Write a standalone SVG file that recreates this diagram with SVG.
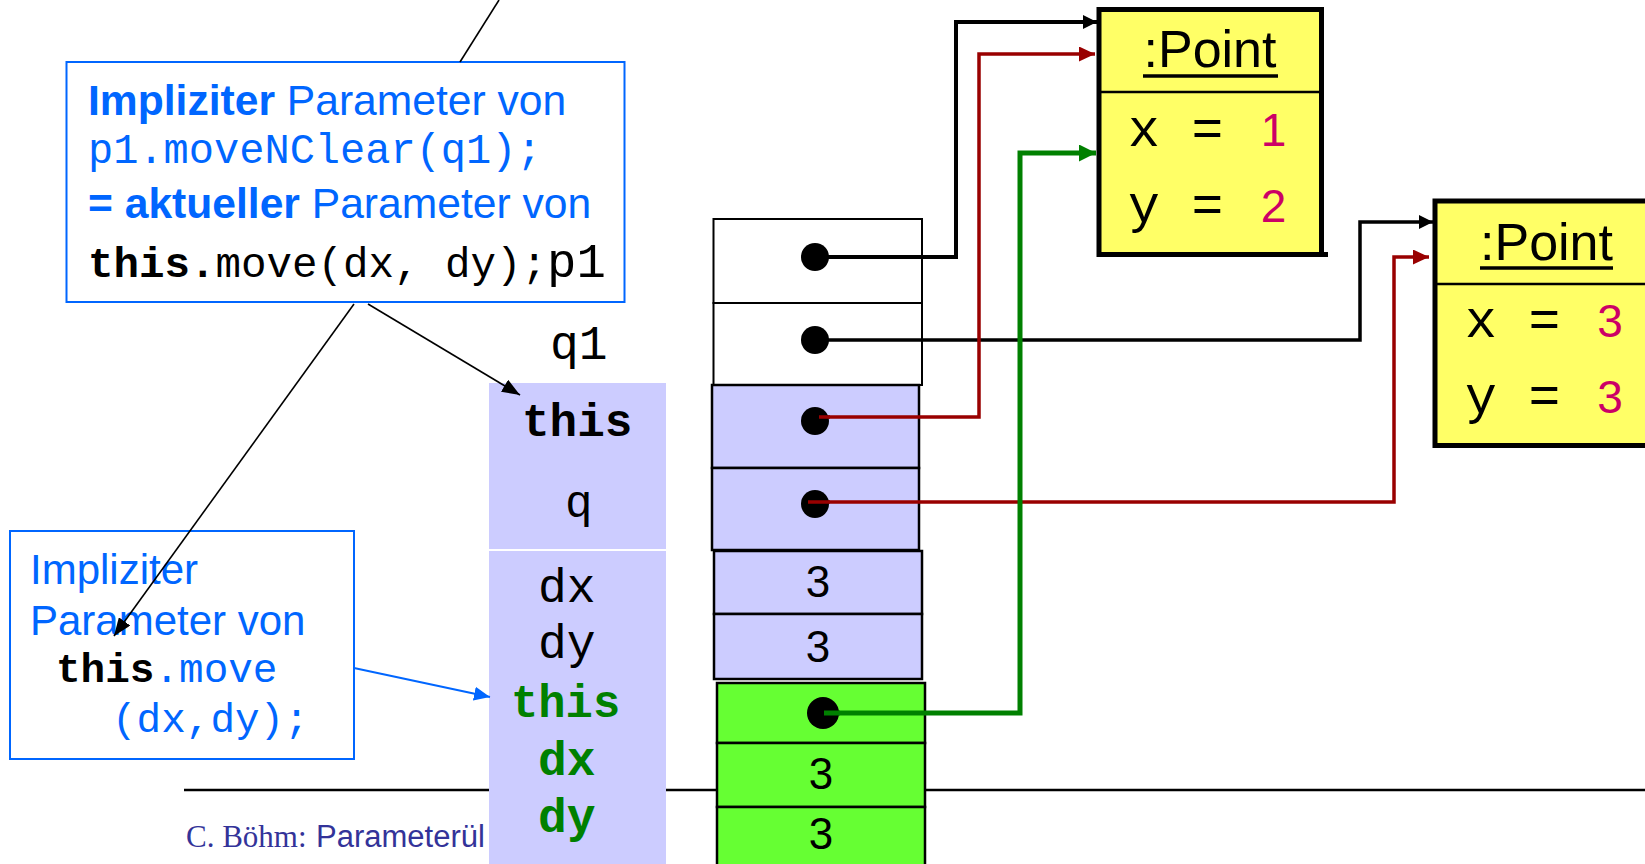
<svg xmlns="http://www.w3.org/2000/svg" width="1645" height="864" viewBox="0 0 1645 864">
<style>
.sans{font-family:"Liberation Sans",Arial,sans-serif}
.mono{font-family:"Liberation Mono","Courier New",monospace}
.serif{font-family:"Liberation Serif","Times New Roman",serif}
.blue{fill:#0066FF}
.blk{fill:#000}
.grn{fill:#008000}
.mag{fill:#CC0066}
.note{fill:#fff;stroke:#0066FF;stroke-width:2}
.cellw{fill:#fff;stroke:#000;stroke-width:2}
.cellp{fill:#CCCCFF;stroke:#000;stroke-width:2.5}
.cellg{fill:#66FF33;stroke:#000;stroke-width:2.5}
.obj{fill:#FFFF66;stroke:#000;stroke-width:5}
.dot{fill:#000}
.conn{fill:none}
</style>
<defs>
<marker id="ahB" markerUnits="userSpaceOnUse" markerWidth="14" markerHeight="14" refX="14" refY="7" orient="auto"><path d="M0,0 L14,7 L0,14 z" fill="#000"/></marker>
<marker id="ahR" markerUnits="userSpaceOnUse" markerWidth="16" markerHeight="15" refX="16" refY="7.5" orient="auto"><path d="M0,0 L16,7.5 L0,15 z" fill="#990000"/></marker>
<marker id="ahG" markerUnits="userSpaceOnUse" markerWidth="17" markerHeight="17" refX="17" refY="8.5" orient="auto"><path d="M0,0 L17,8.5 L0,17 z" fill="#008000"/></marker>
<marker id="ahBl" markerUnits="userSpaceOnUse" markerWidth="16" markerHeight="14" refX="16" refY="7" orient="auto"><path d="M0,0 L16,7 L0,14 z" fill="#0066FF"/></marker>
<marker id="ahK" markerUnits="userSpaceOnUse" markerWidth="18" markerHeight="14" refX="18" refY="7" orient="auto"><path d="M0,0 L18,7 L0,14 z" fill="#000"/></marker>
</defs>

<!-- footer -->
<g id="footer">
<line x1="184" y1="790" x2="1645" y2="790" stroke="#000" stroke-width="2.5"/>
<text x="186" y="847" font-size="31" fill="#333399"><tspan class="serif">C. Böhm:</tspan><tspan class="sans" x="316">Parameterül</tspan></text>
</g>

<!-- note 1 -->
<g id="note1">
<rect class="note" x="66.5" y="62" width="558" height="240"/>
<text class="sans blue" x="88" y="115" font-size="42.6"><tspan font-weight="bold">Impliziter</tspan> Parameter von</text>
<text class="mono blue" x="88" y="163" font-size="42">p1.moveNClear(q1);</text>
<text class="sans blue" x="88" y="218" font-size="42.6"><tspan font-weight="bold">= aktueller</tspan> Parameter von</text>
<text class="mono blk" x="88" y="277" font-size="42.5"><tspan font-weight="bold">this.</tspan>move(dx, dy);<tspan font-size="49">p1</tspan></text>
</g>

<!-- label column -->
<g id="labels">
<rect x="489" y="383" width="177" height="490" fill="#CCCCFF"/>
<line x1="489" y1="550" x2="666" y2="550" stroke="#fff" stroke-width="2"/>
<text class="mono blk" x="550" y="359" font-size="48">q1</text>
<text class="mono blk" x="522" y="436" font-size="46" font-weight="bold">this</text>
<text class="mono blk" x="565" y="517" font-size="46">q</text>
<text class="mono blk" x="538" y="602" font-size="48">dx</text>
<text class="mono blk" x="538" y="658" font-size="48">dy</text>
<text class="mono grn" x="511" y="717" font-size="45.5" font-weight="bold">this</text>
<text class="mono grn" x="538" y="775" font-size="48" font-weight="bold">dx</text>
<text class="mono grn" x="538" y="832" font-size="48" font-weight="bold">dy</text>
</g>

<!-- note 2 -->
<g id="note2">
<rect class="note" x="10" y="531" width="344" height="228"/>
<text class="sans blue" x="30" y="584" font-size="42">Impliziter</text>
<text class="sans blue" x="30" y="635" font-size="42">Parameter von</text>
<text class="mono blue" x="56" y="682" font-size="41"><tspan class="blk" font-weight="bold">this</tspan>.move</text>
<text class="mono blue" x="112" y="732" font-size="41">(dx,dy);</text>
</g>

<!-- stack -->
<g id="stack">
<rect class="cellw" x="713.5" y="219" width="208.5" height="84"/>
<rect class="cellw" x="713.5" y="303" width="208.5" height="82"/>
<rect class="cellp" x="712" y="385" width="207" height="83"/>
<rect class="cellp" x="712" y="468" width="207" height="82"/>
<rect class="cellp" x="714" y="551" width="208" height="63"/>
<rect class="cellp" x="714" y="614" width="208" height="65"/>
<rect class="cellg" x="717" y="683" width="208" height="60"/>
<rect class="cellg" x="717" y="743" width="208" height="64"/>
<rect class="cellg" x="717" y="807" width="208" height="70"/>
<text class="sans blk" x="818" y="597" font-size="44" text-anchor="middle">3</text>
<text class="sans blk" x="818" y="662" font-size="44" text-anchor="middle">3</text>
<text class="sans blk" x="821" y="789" font-size="44" text-anchor="middle">3</text>
<text class="sans blk" x="821" y="849" font-size="44" text-anchor="middle">3</text>
</g>

<!-- objects -->
<g id="point1">
<rect class="obj" x="1099" y="9.5" width="222.5" height="245"/>
<line x1="1321" y1="254.5" x2="1328" y2="254.5" stroke="#000" stroke-width="5"/>
<line x1="1099" y1="92" x2="1321" y2="92" stroke="#000" stroke-width="2.5"/>
<text class="sans blk" x="1210" y="67" font-size="52" text-anchor="middle">:Point</text>
<line x1="1143" y1="76" x2="1278" y2="76" stroke="#000" stroke-width="3.5"/>
<text class="mono blk" x="1128" y="146" font-size="53">x =</text>
<text class="sans mag" x="1273.5" y="146" font-size="46" text-anchor="middle">1</text>
<text class="mono blk" x="1128" y="222" font-size="53">y =</text>
<text class="sans mag" x="1273.5" y="222" font-size="46" text-anchor="middle">2</text>
</g>

<g id="point2">
<rect class="obj" x="1435" y="201" width="260" height="244.5"/>
<line x1="1435" y1="284" x2="1645" y2="284" stroke="#000" stroke-width="2.5"/>
<text class="sans blk" x="1546.5" y="260" font-size="52" text-anchor="middle">:Point</text>
<line x1="1480" y1="268" x2="1613" y2="268" stroke="#000" stroke-width="3.5"/>
<text class="mono blk" x="1465" y="337" font-size="53">x =</text>
<text class="sans mag" x="1610" y="337" font-size="46" text-anchor="middle">3</text>
<text class="mono blk" x="1465" y="413" font-size="53">y =</text>
<text class="sans mag" x="1610" y="413" font-size="46" text-anchor="middle">3</text>
</g>

<!-- connectors -->
<g id="connectors" class="conn">
<line x1="499" y1="0" x2="460" y2="62" stroke="#000" stroke-width="1.6"/>
<line x1="354" y1="304" x2="114" y2="636" stroke="#000" stroke-width="1.6" marker-end="url(#ahK)"/>
<line x1="368" y1="304" x2="520" y2="395" stroke="#000" stroke-width="1.6" marker-end="url(#ahK)"/>
<line x1="354" y1="668" x2="490" y2="697" stroke="#0066FF" stroke-width="2" marker-end="url(#ahBl)"/>
<path d="M815,257 H956 V22 H1097" stroke="#000" stroke-width="4" fill="none" marker-end="url(#ahB)"/>
<path d="M815,340 H1360 V222 H1433" stroke="#000" stroke-width="3.5" fill="none" marker-end="url(#ahB)"/>
<path d="M819,417 H979 V54 H1095" stroke="#990000" stroke-width="3.5" fill="none" marker-end="url(#ahR)"/>
<path d="M808,502 H1394 V257 H1429" stroke="#990000" stroke-width="3.5" fill="none" marker-end="url(#ahR)"/>
<path d="M824,713 H1020 V153 H1096" stroke="#008000" stroke-width="5" fill="none" marker-end="url(#ahG)"/>
</g>

<!-- reference dots -->
<g id="dots">
<circle class="dot" cx="815" cy="257" r="14"/>
<circle class="dot" cx="815" cy="340" r="14"/>
<circle class="dot" cx="815" cy="421" r="14"/>
<circle class="dot" cx="815" cy="504" r="14"/>
<circle class="dot" cx="823" cy="713" r="16"/>
</g>
<g id="dotlines">
<line x1="819" y1="417" x2="830" y2="417" stroke="#990000" stroke-width="3.5"/>
<line x1="808" y1="502" x2="830" y2="502" stroke="#990000" stroke-width="3.5"/>
<line x1="824" y1="713" x2="840" y2="713" stroke="#008000" stroke-width="5"/>
</g>
</svg>
